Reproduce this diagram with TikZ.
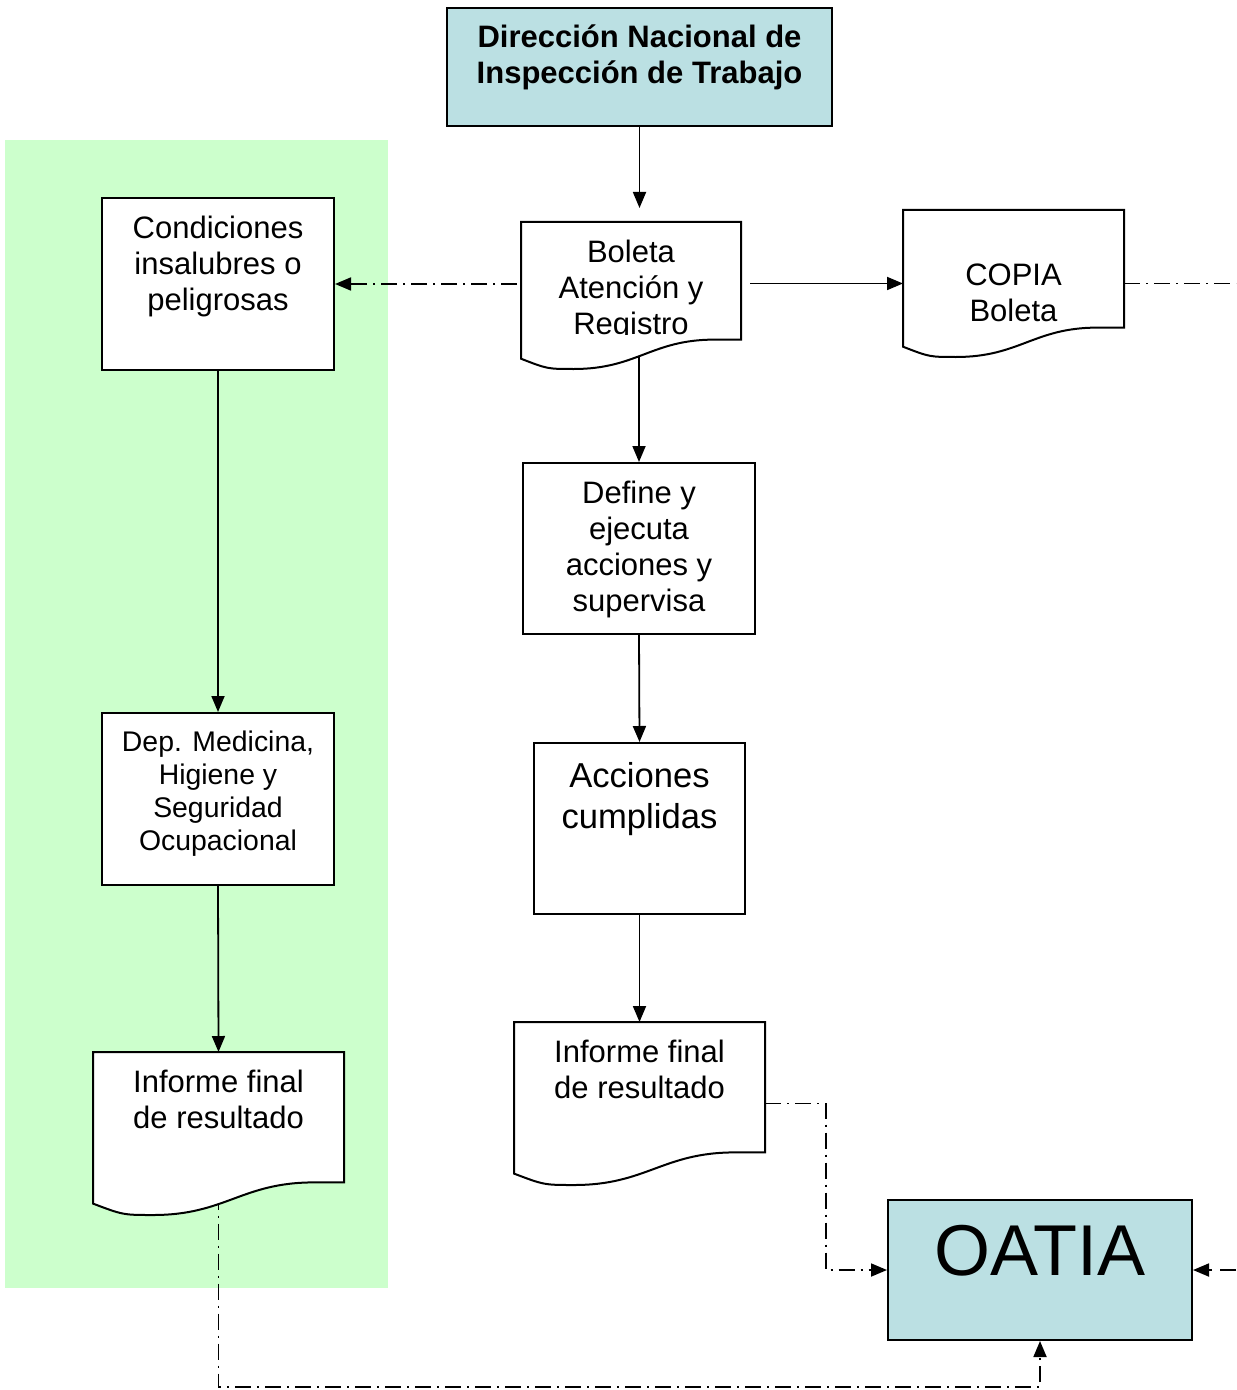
\documentclass[tikz,border=0pt]{standalone}
\usepackage{fontspec}
\setmainfont{Liberation Sans}
\usetikzlibrary{positioning,calc,arrows.meta}
\definecolor{headblue}{RGB}{187,224,227}
\definecolor{zonegreen}{RGB}{204,255,204}

\begin{document}
\begin{tikzpicture}[x=0.5pt,y=-0.5pt,line width=0.9pt,>={Triangle[length=8pt,width=6.5pt]}]
    \tikzstyle{box}=[draw, line width=1pt, fill=white, inner sep=0pt]
    \tikzstyle{head box}=[box, fill=headblue]
    \tikzstyle{doc}=[inner sep=0pt, outer sep=0pt]
    \tikzstyle{caption}=[align=center, inner sep=0pt, anchor=north, font=\fontsize{15.5}{18}\selectfont]
    \tikzstyle{ref line}=[->, dash pattern=on 8pt off 3pt on 1pt off 3pt]

    % document symbol: box with a wavy lower edge
    \newcommand{\docshape}[1]{
        \coordinate (#1-r) at ($(#1.south east)!0.2!(#1.north east)$);
        \coordinate (#1-f) at ($(#1-r)!0.12!(#1-r -| #1.west)$);
        \coordinate (#1-m) at ($(#1.south west)!0.24!(#1.south east)$);
        \coordinate (#1-l) at ($(#1.south west)!0.07!(#1.north west)$);
        \draw[line width=1pt, fill=white] (#1.north west) -- (#1.north east) -- (#1-r) -- (#1-f)
            .. controls ($(#1-f)!0.45!(#1-m |- #1-f)$) and ($(#1-m)!0.45!(#1-f |- #1-m)$) .. (#1-m)
            .. controls ($(#1-m)!0.5!(#1-l |- #1-m)$) .. (#1-l) -- cycle;
    }

    \useasboundingbox (0,0) rectangle (1236,1390);

    % Green zone on the left
    \fill[zonegreen] (5,140) rectangle (388,1288);

    % Draw the plain boxes
    \node[head box, minimum width=192.5pt, minimum height=59pt] (dir) at (639.5,67) {};
    \node[box, minimum width=116pt, minimum height=86pt] (cond) at (218,284) {};
    \node[box, minimum width=116pt, minimum height=86pt] (dep) at (218,799) {};
    \node[box, minimum width=116pt, minimum height=85.5pt] (def) at (639,548.5) {};
    \node[box, minimum width=105.5pt, minimum height=85.5pt] (acc) at (639.5,828.5) {};
    \node[head box, minimum width=152pt, minimum height=70pt] (oatia) at (1040,1270) {};

    % Document nodes (outline drawn by \docshape)
    \node[doc, minimum width=110pt, minimum height=73.5pt] (bol) at (631,295.5) {};
    \node[doc, minimum width=110.5pt, minimum height=73.5pt] (copia) at (1013.5,283.5) {};
    \node[doc, minimum width=125.5pt, minimum height=81.5pt] (infL) at (218.5,1133.5) {};
    \node[doc, minimum width=125.5pt, minimum height=81.5pt] (infR) at (639.5,1103.5) {};

    \coordinate (edge1) at (1236,283.5);
    \coordinate (edge2) at (1236,1270);
    \coordinate (base) at (0,1387);

    % Connectors leaving from inside a document go under its outline
    \draw[->] (def.north |- bol.center) -- (def.north);
    \draw[ref line] (infL.center) -- (infL.center |- base) -| (oatia.south);

    \docshape{bol}
    \docshape{copia}
    \docshape{infL}
    \docshape{infR}

    % Texts
    \node[caption, font=\fontsize{15.5}{18}\selectfont\bfseries] (dir-txt) at ([yshift=-8.5pt]dir.north)
        {Dirección Nacional de\\Inspección de Trabajo};
    \node[caption] (cond-txt) at ([yshift=-9pt]cond.north) {Condiciones\\insalubres o\\peligrosas};
    \begin{scope}
        \clip (bol.north west) rectangle ($(bol.north east)+(0,113)$);
        \node[caption] (bol-txt) at ([yshift=-8.5pt]bol.north) {Boleta\\Atención y\\Registro};
    \end{scope}
    \node[caption] (copia-txt) at ([yshift=-26.5pt]copia.north) {COPIA\\Boleta};
    \node[caption] (def-txt) at ([yshift=-9pt]def.north) {Define y\\ejecuta\\acciones y\\supervisa};
    \node[caption, font=\fontsize{17.3}{20.5}\selectfont] (acc-txt) at ([yshift=-10pt]acc.north) {Acciones\\cumplidas};
    \node[caption, font=\fontsize{14.2}{16.5}\selectfont] (dep-txt) at ([yshift=-9pt]dep.north)
        {Dep. Medicina,\\Higiene y\\Seguridad\\Ocupacional};
    \node[caption] (infL-txt) at ([yshift=-8.5pt]infL.north) {Informe final\\de resultado};
    \node[caption] (infR-txt) at ([yshift=-8.5pt]infR.north) {Informe final\\de resultado};
    \node[caption, font=\fontsize{36}{40}\selectfont] (oatia-txt) at ([yshift=-12.5pt]oatia.north) {OATIA};

    % Main flow
    \draw[->, shorten >=7pt] (dir.south) -- (dir.south |- bol.north);
    \draw[->] ([xshift=4.5pt]bol.east |- copia.west) -- (copia.west);
    \draw[->] (def.south) -- (acc.north);
    \draw[->] (acc.south) -- (infR.north);
    \draw[->] (cond.south) -- (dep.north);
    \draw[->] (dep.south) -- (infL.north);

    % Dash-dot links
    \draw[ref line] ([xshift=-2pt]bol.west |- cond.east) -- (cond.east);
    \draw[ref line, -] (copia.east) -- (edge1);
    \draw[ref line] (infR.east) -- ++(61,0) |- (oatia.west);
    \draw[->, dash pattern=on 8pt off 4pt] (edge2) -- (oatia.east);
\end{tikzpicture}
\end{document}
